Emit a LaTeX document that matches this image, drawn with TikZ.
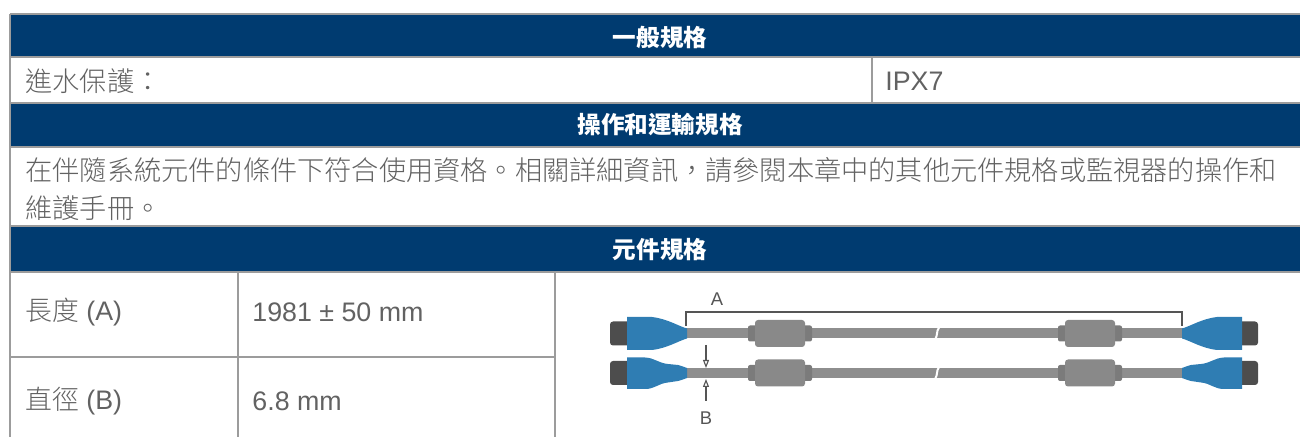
\documentclass[tikz,border=0pt]{standalone}
\usepackage{fontspec}
\setmainfont{Liberation Sans}
\newfontfamily\cjk[Script=CJK,Language=Chinese Traditional]{Noto Sans CJK TC}
\newfontfamily\cjklight[Script=CJK,Language=Chinese Traditional]{Noto Sans CJK TC Light}
\usetikzlibrary{arrows.meta}
\definecolor{hdrblue}{HTML}{003B70}
\definecolor{txtgray}{HTML}{626262}
\definecolor{rulegray}{HTML}{9C9C9C}
\definecolor{plugblue}{HTML}{2F7DB3}
\definecolor{cablegray}{HTML}{8E8E8E}
\definecolor{beadgray}{HTML}{898989}
\definecolor{capgray}{HTML}{4D4D4D}
\definecolor{dimgray}{HTML}{555555}
\begin{document}
\begin{tikzpicture}[x=0.5pt,y=-0.5pt,
    hdr/.style={text=white,inner sep=0pt,font=\cjk\bfseries\fontsize{11.8}{14}\selectfont},
    cell/.style={anchor=west,text=txtgray,inner sep=0pt,font=\fontsize{13.4}{16}\selectfont},
    zh/.style={cell,font=\cjklight\fontsize{13.6}{16}\selectfont},
    rule/.style={draw=rulegray,line width=0.8pt},
    cable/.style={fill=cablegray},
    bead/.style={fill=beadgray,rounded corners=1.5pt},
    collar/.style={fill=beadgray!90!black,rounded corners=1pt},
    capend/.style={fill=capgray,rounded corners=1.5pt},
    plug/.style={fill=plugblue},
    dim/.style={draw=dimgray,line width=0.55pt},
    dimarrow/.style={dim,-{Triangle[open,length=4pt,width=3pt]}},
    dimlabel/.style={text=dimgray,inner sep=0pt,font=\fontsize{9.2}{11}\selectfont}]
    \useasboundingbox (0,0) rectangle (1300,437);

    % header bars
    \fill[hdrblue] (10,14) rectangle (1300,57);
    \fill[hdrblue] (10,103) rectangle (1300,147);
    \fill[hdrblue] (10,226) rectangle (1300,272);

    % grid
    \draw[rule] (10,14) -- (1300,14);
    \draw[rule] (10,57) -- (1300,57);
    \draw[rule] (10,103) -- (1300,103);
    \draw[rule] (10,147) -- (1300,147);
    \draw[rule] (10,226) -- (1300,226);
    \draw[rule] (10,272) -- (1300,272);
    \draw[rule] (10,14) -- (10,437);
    \draw[rule] (872,57) -- (872,103);
    \draw[rule] (238,272) -- (238,437);
    \draw[rule] (555,272) -- (555,437);
    \draw[rule] (10,357) -- (555,357);

    % texts
    \node[hdr] (general) at (660,38) {一般規格};
    \node[zh]   (ingress) at (25,81) {進水保護：};
    \node[cell] (ipx) at (885,81) {IPX7};
    \node[hdr] (operating) at (660,125) {操作和運輸規格};
    \node[zh]   (noteA) at (25,170) {在伴隨系統元件的條件下符合使用資格。相關詳細資訊，請參閱本章中的其他元件規格或監視器的操作和};
    \node[zh]   (noteB) at (25,208) {維護手冊。};
    \node[hdr] (component) at (660,250) {元件規格};
    \node[cell] (lenkey) at (25,312) {{\cjklight 長度} (A)};
    \node[cell] (lenval) at (252,312) {1981 ± 50 mm};
    \node[cell] (diakey) at (25,401) {{\cjklight 直徑} (B)};
    \node[cell] (diaval) at (252,401) {6.8 mm};

    % cables
    \foreach \yc in {333.5,373} {
        \fill[cable] (686,\yc-5) rectangle (1183,\yc+5);
        \fill[collar] (748,\yc-8) rectangle (812,\yc+8);
        \fill[bead] (755,\yc-13.5) rectangle (805,\yc+13.5);
        \fill[collar] (1058,\yc-8) rectangle (1122,\yc+8);
        \fill[bead] (1065,\yc-13.5) rectangle (1115,\yc+13.5);
        \fill[capend] (610,\yc-12) rectangle (630,\yc+12);
        \fill[capend] (1239,\yc-12) rectangle (1258,\yc+12);
        \draw[white,line width=1pt] (935,\yc+6) .. controls (938,\yc+2) and (936,\yc-2) .. (939,\yc-6);
    }
    \fill[plug] (627,317) -- (652,317) .. controls (668,319) and (678,326) .. (687,328.5) -- (687,338.5)
        .. controls (678,341) and (668,348) .. (652,350) -- (627,350) -- cycle;
    \fill[plug] (1242,317) -- (1217,317) .. controls (1201,319) and (1191,326) .. (1182,328.5) -- (1182,338.5)
        .. controls (1191,341) and (1201,348) .. (1217,350) -- (1242,350) -- cycle;
    \fill[plug] (627,357.5) -- (645,357.5) .. controls (655,358) and (658,363) .. (668,364) -- (678,365)
        .. controls (682,366) and (684,367) .. (687,368) -- (687,378) .. controls (684,379) and (682,380) .. (678,381)
        -- (668,382.5) .. controls (658,383.5) and (655,389) .. (645,389) -- (627,389) -- cycle;
    \fill[plug] (1242,357.5) -- (1224,357.5) .. controls (1214,358) and (1211,363) .. (1201,364) -- (1191,365)
        .. controls (1187,366) and (1185,367) .. (1182,368) -- (1182,378) .. controls (1185,379) and (1187,380) .. (1191,381)
        -- (1201,382.5) .. controls (1211,383.5) and (1214,389) .. (1224,389) -- (1242,389) -- cycle;

    % dimension A
    \coordinate (aleft) at (686,326);
    \coordinate (aright) at (1182,326);
    \draw[dim] (aleft) -- ++(0,-14) -| (aright);
    \node[dimlabel] (lblA) at (717,299) {A};

    % dimension B
    \coordinate (babove) at (706,345);
    \coordinate (btop) at (706,368);
    \coordinate (bbot) at (706,379);
    \coordinate (bbelow) at (706,401);
    \node[dimlabel] (lblB) at (706,418) {B};
    \draw[dimarrow] (babove) -- (btop);
    \draw[dimarrow] (bbelow) -- (bbot);
\end{tikzpicture}
\end{document}
